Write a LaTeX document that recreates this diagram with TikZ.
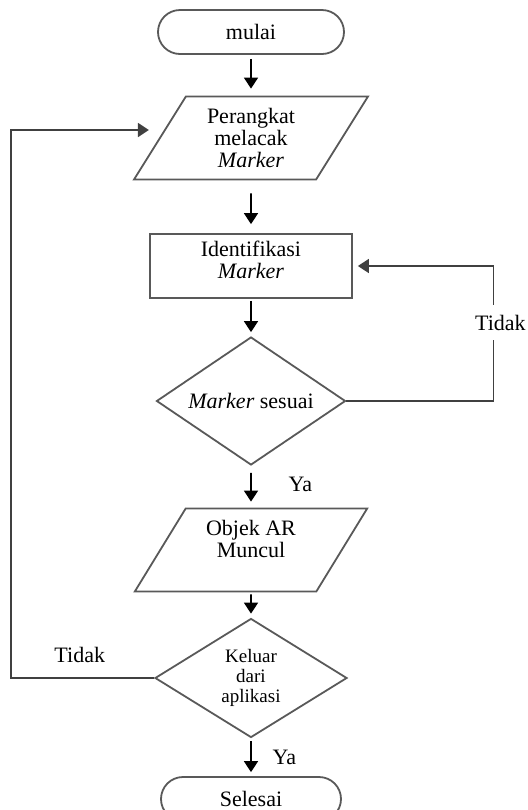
\documentclass[tikz,border=0pt]{standalone}
\usepackage{fontspec}
\setmainfont{Liberation Serif}
\usetikzlibrary{shapes.geometric,arrows.meta}
\tikzstyle{every node}=[font=\fontsize{11}{11}\selectfont,align=center]
\tikzstyle{terminal}=[draw=black!65,line width=0.9pt,rounded corners=11pt,minimum width=93pt,minimum height=22pt]
\tikzstyle{io}=[draw=black!65,line width=0.9pt,trapezium,trapezium left angle=60,trapezium right angle=120,trapezium stretches=true,minimum width=117pt,minimum height=41.5pt,inner sep=1pt]
\tikzstyle{process}=[draw=black!65,line width=0.9pt,minimum width=101pt,minimum height=32pt]
\tikzstyle{decision}=[draw=black!65,line width=0.9pt,diamond,inner sep=1pt]
\tikzstyle{arrow}=[draw=black,line width=0.9pt,-{Triangle[width=7pt,length=5.5pt]},shorten <=2pt,shorten >=3pt]
\tikzstyle{back}=[draw=black!75,line width=0.9pt,-{Triangle[width=7pt,length=5.5pt]}]

\begin{document}
\begin{tikzpicture}[x=0.5pt,y=-0.5pt]
    \useasboundingbox (0,0) rectangle (527,810);
    \clip (0,0) rectangle (527,810);
    % simbol alur
    \node [terminal] (mulai) at (251,32) {mulai};
    \node [io] (lacak) at (251,138) {Perangkat\\melacak\\\textit{Marker}};
    \node [process] (identifikasi) at (251,266) {Identifikasi\\\textit{Marker}\\[-5pt]};
    \node [decision,aspect=1.48,minimum width=94.5pt,minimum height=64pt] (sesuai) at (251,401) {\textit{Marker} sesuai};
    \node [io] (muncul) at (251,550) {Objek AR\\Muncul\\~};
    \node [decision,aspect=1.61,minimum width=96pt,minimum height=59.5pt,font=\fontsize{9.5}{10}\selectfont] (keluar) at (251,678) {Keluar\\dari\\aplikasi};
    \node [terminal,minimum width=90pt] (selesai) at (251,799) {Selesai};
    % panah
    \draw [arrow,shorten >=3.5pt] (mulai) -- (lacak);
    \draw [arrow,shorten <=6.5pt,shorten >=4.5pt] (lacak) -- (identifikasi);
    \draw [arrow,shorten <=1pt,shorten >=2pt] (identifikasi) -- (sesuai);
    \draw [arrow,shorten <=3.5pt] (sesuai) -- node[right=15pt,yshift=1pt] {Ya} (muncul);
    \draw [arrow,shorten <=1pt,shorten >=2pt] (muncul) -- (keluar);
    \draw [arrow,shorten <=1.5pt,shorten >=2pt] (keluar) -- node[right=7pt] {Ya} (selesai);
    % kembali
    \draw [back,shorten >=2.5pt] (sesuai.east) -- ++(147,0)
        |- node[pos=0.29,fill=white,inner xsep=1pt,inner ysep=5pt,xshift=3.5pt] {Tidak} (identifikasi.east);
    \draw [back,shorten >=5pt] (keluar.west) -- node[pos=0.52,above=4pt] {Tidak} ++(-143,0)
        |- ([yshift=4pt]lacak.west);
\end{tikzpicture}
\end{document}
